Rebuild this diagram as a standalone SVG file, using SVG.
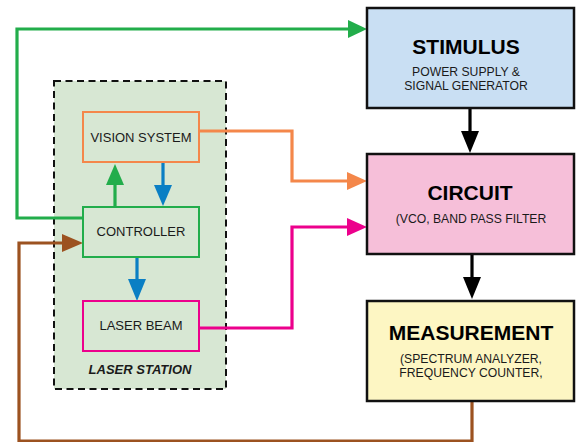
<svg xmlns="http://www.w3.org/2000/svg" width="577" height="442" viewBox="0 0 577 442">
<defs>
<style>
text{font-family:"Liberation Sans",Arial,sans-serif;fill:#1a1a1a;text-anchor:middle}
.big{font-size:21px;font-weight:bold;fill:#000}
.sub{font-size:12.2px}
.nt{font-size:13px}
.box{stroke:#111;stroke-width:2.5}
.w{fill:none;stroke-width:3.2}
</style>
</defs>
<rect x="54" y="81" width="172" height="308" fill="#d7e7d3" stroke="#111" stroke-width="2" stroke-dasharray="7,4.5"/>
<text x="140" y="374" style="font-size:13px;font-weight:bold;font-style:italic">LASER STATION</text>
<g id="connectors">
<path class="w" stroke="#22ad4b" d="M83,218H17V29H348"/>
<path d="M348,20L367,29L348,38z" fill="#22ad4b"/>
<path class="w" stroke="#22ad4b" d="M115,207V184"/>
<path d="M106,185L115,164L124,185z" fill="#22ad4b"/>
<path class="w" stroke="#0a7fc4" d="M163,162V186"/>
<path d="M154,185L163,206L172,185z" fill="#0a7fc4"/>
<path class="w" stroke="#0a7fc4" d="M137,257V280"/>
<path d="M128,279L137,301L146,279z" fill="#0a7fc4"/>
<path class="w" stroke="#f4874a" d="M199,131H292V181H348"/>
<path d="M347,172L367,181L347,190z" fill="#f4874a"/>
<path class="w" stroke="#ec008c" d="M199,328H292V227H348"/>
<path d="M347,218L367,227L347,236z" fill="#ec008c"/>
<path class="w" stroke="#9c5220" d="M472,401V441H19V243H63"/>
<path d="M62,234L83,243L62,252z" fill="#9c5220"/>
<path class="w" stroke="#000" d="M470,108V132"/>
<path d="M461,131L470,153L479,131z" fill="#000"/>
<path class="w" stroke="#000" d="M472,254V278"/>
<path d="M463,277L472,299L481,277z" fill="#000"/>
</g>
<g id="vision">
<rect x="83" y="112" width="116" height="50" fill="#d7e7d3" stroke="#f4874a" stroke-width="2"/>
<text class="nt" x="141" y="142">VISION SYSTEM</text>
</g>
<g id="controller">
<rect x="83" y="207" width="116" height="50" fill="#d7e7d3" stroke="#22ad4b" stroke-width="2"/>
<text class="nt" x="141" y="236">CONTROLLER</text>
</g>
<g id="laserbeam">
<rect x="83" y="301" width="116" height="50" fill="#d7e7d3" stroke="#ec008c" stroke-width="2"/>
<text class="nt" x="141" y="330">LASER BEAM</text>
</g>
<g id="stimulus">
<rect class="box" x="367" y="8" width="207" height="100" fill="#c9dff3"/>
<text class="big" x="466" y="54">STIMULUS</text>
<text class="sub" x="466" y="76">POWER SUPPLY &amp;</text>
<text class="sub" x="466" y="90">SIGNAL GENERATOR</text>
</g>
<g id="circuit">
<rect class="box" x="367" y="154" width="207" height="100" fill="#f6bfd9"/>
<text class="big" x="470" y="200">CIRCUIT</text>
<text class="sub" x="471" y="223">(VCO, BAND PASS FILTER</text>
</g>
<g id="measurement">
<rect class="box" x="367" y="301" width="207" height="100" fill="#fdf6c3"/>
<text class="big" x="471" y="340">MEASUREMENT</text>
<text class="sub" x="471" y="363">(SPECTRUM ANALYZER,</text>
<text class="sub" x="471" y="377">FREQUENCY COUNTER,</text>
</g>
</svg>
